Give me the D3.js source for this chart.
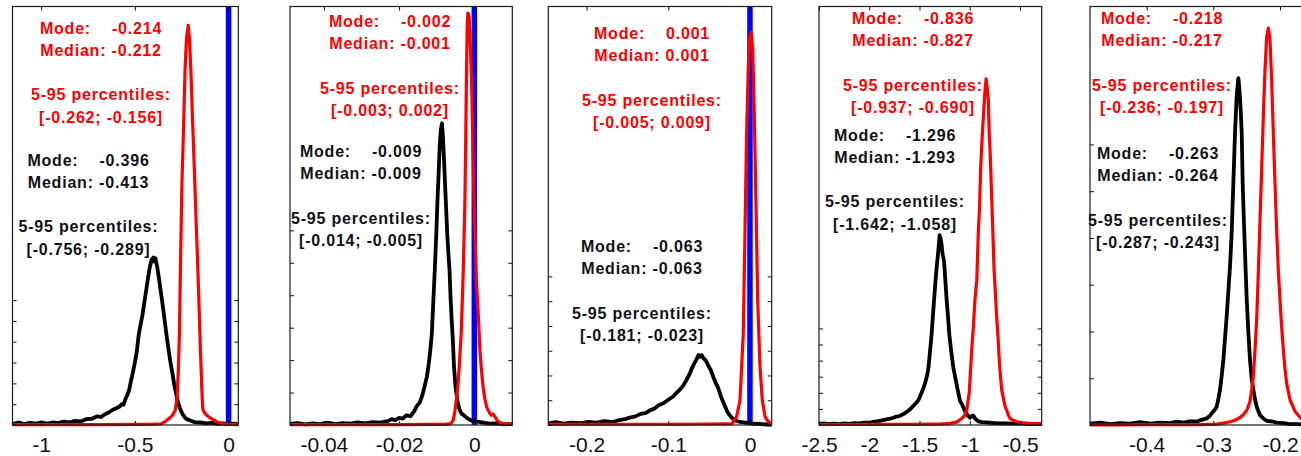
<!DOCTYPE html>
<html>
<head>
<meta charset="utf-8">
<script src="https://cdn.jsdelivr.net/npm/d3@7"></script>
<style>
  body { margin: 0; background: #fff; }
  svg { display: block; }
  text { font-family: "Liberation Sans", Arial, Helvetica, sans-serif; }
</style>
</head>
<body>
<svg id="chart" width="1301" height="456"></svg>
<script>
// ---- axis limits of the five panels ----
const xMin = [-1.153, -0.049, -0.2469, -2.5, -0.485];
const xMax = [0.052, 0.0101, 0.0266, -0.284, -0.1505];
const yMax = [20.1, 12.9, 16.9, 26.0, 8.95];

// ---- tick values and labels ----
const xTickValues = [
  [-1, -0.5, 0],
  [-0.04, -0.02, 0],
  [-0.2, -0.1, 0],
  [-2.5, -2, -1.5, -1, -0.5],
  [-0.4, -0.3, -0.2]
];
const xTickLabels = [
  ["-1", "-0.5", "0"],
  ["-0.04", "-0.02", "0"],
  ["-0.2", "-0.1", "0"],
  ["-2.5", "-2", "-1.5", "-1", "-0.5"],
  ["-0.4", "-0.3", "-0.2"]
];
const yTickValues = [0, 1, 2, 3, 4, 5, 6];

// ---- vertical reference line (zero effect), null where absent ----
const refLineX = [0, 0, 0, null, null];

// ---- posterior densities: black series ----
const blackP1 = [[-1.15,0.05],[-1.12,0.12],[-1.09,0.04],[-1.06,0.1],[-1.03,0.06],[-1.0,0.13],[-0.97,0.07],[-0.94,0.12],[-0.91,0.09],[-0.88,0.16],[-0.85,0.12],[-0.82,0.2],[-0.79,0.17],[-0.76,0.28],[-0.73,0.3],[-0.7,0.42],[-0.68,0.38],[-0.66,0.52],[-0.64,0.6],[-0.62,0.72],[-0.6,0.8],[-0.58,0.9],[-0.57,1.0],[-0.56,0.98],[-0.55,1.25],[-0.54,1.45],[-0.53,1.7],[-0.52,2.15],[-0.51,2.55],[-0.5,3.0],[-0.49,3.5],[-0.48,4.3],[-0.47,4.8],[-0.46,5.25],[-0.45,5.85],[-0.44,6.45],[-0.43,7.05],[-0.42,7.6],[-0.41,7.95],[-0.4,8.05],[-0.395,7.85],[-0.39,8.0],[-0.38,7.55],[-0.37,6.95],[-0.36,6.3],[-0.35,5.65],[-0.34,4.95],[-0.33,4.25],[-0.32,3.6],[-0.31,3.0],[-0.3,2.5],[-0.29,1.95],[-0.28,1.5],[-0.27,1.1],[-0.26,0.82],[-0.25,0.6],[-0.24,0.45],[-0.23,0.33],[-0.22,0.27],[-0.2,0.2],[-0.18,0.14],[-0.15,0.12],[-0.12,0.08],[-0.09,0.1],[-0.06,0.06],[-0.03,0.08],[0.0,0.05],[0.03,0.06],[0.05,0.04]];
const blackP2 = [[-0.049,0.03],[-0.047,0.06],[-0.045,0.02],[-0.043,0.05],[-0.041,0.03],[-0.039,0.07],[-0.037,0.03],[-0.035,0.06],[-0.033,0.04],[-0.031,0.08],[-0.029,0.05],[-0.027,0.09],[-0.025,0.07],[-0.023,0.12],[-0.022,0.18],[-0.021,0.15],[-0.02,0.22],[-0.019,0.2],[-0.018,0.3],[-0.017,0.27],[-0.016,0.42],[-0.0153,0.58],[-0.0145,0.7],[-0.0138,0.92],[-0.0132,1.2],[-0.0126,1.5],[-0.0122,1.8],[-0.0117,2.3],[-0.0113,2.8],[-0.0109,3.8],[-0.0105,4.8],[-0.0101,5.9],[-0.0098,6.9],[-0.0095,7.7],[-0.0092,8.6],[-0.0089,9.1],[-0.0086,9.3],[-0.0084,9.0],[-0.0081,8.3],[-0.0078,7.5],[-0.0075,6.7],[-0.0072,5.9],[-0.0069,5.3],[-0.0066,4.8],[-0.0063,3.9],[-0.006,3.2],[-0.0057,2.6],[-0.0054,1.8],[-0.005,1.2],[-0.0045,0.75],[-0.004,0.5],[-0.0034,0.35],[-0.0028,0.3],[-0.002,0.22],[-0.001,0.15],[0.0006,0.11],[0.002,0.08],[0.004,0.04],[0.006,0.05],[0.008,0.02],[0.0101,0.03]];
const blackP3 = [[-0.247,0.07],[-0.238,0.12],[-0.228,0.06],[-0.218,0.1],[-0.208,0.07],[-0.198,0.13],[-0.188,0.1],[-0.178,0.16],[-0.168,0.12],[-0.16,0.2],[-0.153,0.24],[-0.147,0.3],[-0.14,0.35],[-0.134,0.45],[-0.128,0.48],[-0.122,0.6],[-0.117,0.66],[-0.112,0.8],[-0.106,0.88],[-0.1,1.02],[-0.094,1.15],[-0.09,1.3],[-0.086,1.42],[-0.082,1.58],[-0.078,1.8],[-0.074,2.05],[-0.071,2.3],[-0.068,2.5],[-0.065,2.68],[-0.063,2.83],[-0.061,2.75],[-0.059,2.82],[-0.057,2.7],[-0.054,2.6],[-0.051,2.4],[-0.048,2.22],[-0.045,1.95],[-0.042,1.7],[-0.039,1.5],[-0.035,1.1],[-0.031,0.8],[-0.028,0.55],[-0.025,0.4],[-0.022,0.28],[-0.018,0.18],[-0.014,0.14],[-0.01,0.12],[-0.006,0.09],[0.0,0.08],[0.006,0.05],[0.012,0.04],[0.02,0.02],[0.0266,0.01]];
const blackP4 = [[-2.497,0.06],[-2.45,0.1],[-2.4,0.05],[-2.35,0.09],[-2.3,0.06],[-2.25,0.1],[-2.2,0.07],[-2.15,0.12],[-2.1,0.1],[-2.05,0.15],[-2.0,0.14],[-1.96,0.2],[-1.91,0.24],[-1.86,0.3],[-1.82,0.36],[-1.79,0.4],[-1.76,0.45],[-1.73,0.52],[-1.7,0.55],[-1.66,0.68],[-1.63,0.8],[-1.59,1.0],[-1.56,1.2],[-1.53,1.4],[-1.51,1.55],[-1.49,1.85],[-1.46,2.3],[-1.44,2.7],[-1.42,3.2],[-1.41,3.6],[-1.395,4.6],[-1.38,5.6],[-1.37,6.5],[-1.356,7.7],[-1.34,9.0],[-1.329,9.8],[-1.313,10.8],[-1.3,11.8],[-1.29,11.6],[-1.28,11.2],[-1.27,10.6],[-1.256,10.2],[-1.243,9.0],[-1.229,7.7],[-1.216,6.7],[-1.203,5.6],[-1.185,4.6],[-1.164,3.6],[-1.13,2.5],[-1.097,1.5],[-1.07,1.2],[-1.047,0.85],[-1.02,0.6],[-0.998,0.45],[-0.98,0.55],[-0.965,0.58],[-0.94,0.35],[-0.915,0.23],[-0.88,0.18],[-0.84,0.16],[-0.8,0.14],[-0.75,0.12],[-0.7,0.1],[-0.632,0.1],[-0.58,0.08],[-0.52,0.1],[-0.467,0.08],[-0.4,0.06],[-0.34,0.07],[-0.284,0.06]];
const blackP5 = [[-0.485,0.03],[-0.47,0.05],[-0.455,0.02],[-0.44,0.04],[-0.425,0.03],[-0.41,0.06],[-0.395,0.03],[-0.38,0.05],[-0.365,0.04],[-0.355,0.07],[-0.345,0.05],[-0.335,0.08],[-0.325,0.07],[-0.32,0.1],[-0.315,0.12],[-0.31,0.14],[-0.305,0.2],[-0.3,0.29],[-0.297,0.34],[-0.295,0.39],[-0.2925,0.55],[-0.29,0.75],[-0.2875,1.05],[-0.285,1.39],[-0.2825,1.85],[-0.28,2.32],[-0.2775,2.85],[-0.275,3.39],[-0.2725,4.1],[-0.27,5.17],[-0.2675,6.24],[-0.265,7.03],[-0.2625,7.42],[-0.261,7.2],[-0.26,7.0],[-0.2585,6.6],[-0.2574,6.24],[-0.256,5.17],[-0.2535,4.1],[-0.2515,3.3],[-0.2499,2.68],[-0.2475,2.0],[-0.245,1.39],[-0.2425,1.0],[-0.24,0.75],[-0.2375,0.55],[-0.2349,0.39],[-0.2325,0.3],[-0.23,0.21],[-0.225,0.14],[-0.22,0.09],[-0.21,0.07],[-0.205,0.05],[-0.195,0.04],[-0.185,0.02],[-0.175,0.02],[-0.165,0.01],[-0.15,0.01]];

// ---- posterior densities: red series ----
const redP1 = [[-1.15,0.02],[-0.9,0.02],[-0.7,0.02],[-0.5,0.03],[-0.4,0.04],[-0.36,0.06],[-0.34,0.15],[-0.32,0.3],[-0.3,0.45],[-0.285,0.7],[-0.275,1.3],[-0.268,2.6],[-0.262,4.5],[-0.256,8.0],[-0.249,11.5],[-0.241,14.0],[-0.232,17.1],[-0.224,18.6],[-0.215,19.2],[-0.208,18.4],[-0.201,17.0],[-0.192,14.6],[-0.183,12.4],[-0.174,10.0],[-0.165,7.8],[-0.157,5.6],[-0.15,3.6],[-0.143,1.8],[-0.138,0.8],[-0.13,0.6],[-0.12,0.5],[-0.1,0.35],[-0.085,0.27],[-0.06,0.14],[-0.03,0.05],[0.0,0.03],[0.05,0.02]];
const redP2 = [[-0.049,0.01],[-0.04,0.01],[-0.03,0.01],[-0.02,0.01],[-0.012,0.02],[-0.008,0.02],[-0.0064,0.04],[-0.006,0.08],[-0.0056,0.15],[-0.0052,0.4],[-0.0047,0.85],[-0.0043,1.3],[-0.004,1.8],[-0.0035,2.8],[-0.0032,3.8],[-0.0029,4.9],[-0.0027,5.9],[-0.0025,6.9],[-0.0023,8.6],[-0.0021,10.6],[-0.0019,12.3],[-0.0017,12.7],[-0.0014,12.6],[-0.0012,12.1],[-0.001,11.5],[-0.0008,10.8],[-0.0006,10.0],[-0.0003,8.0],[0.0,6.6],[0.0003,5.4],[0.0006,4.35],[0.0011,3.3],[0.0015,2.3],[0.0019,1.7],[0.0023,1.2],[0.0028,0.8],[0.0033,0.55],[0.004,0.38],[0.0045,0.3],[0.005,0.34],[0.0055,0.25],[0.0062,0.12],[0.007,0.07],[0.0085,0.03],[0.0101,0.02]];
const redP3 = [[-0.247,0.03],[-0.2,0.03],[-0.15,0.03],[-0.1,0.03],[-0.05,0.04],[-0.03,0.05],[-0.0224,0.04],[-0.0204,0.13],[-0.0163,0.34],[-0.0122,1.0],[-0.0082,3.7],[-0.0061,7.8],[-0.0041,11.8],[-0.002,14.5],[0.0,15.7],[0.0016,15.85],[0.0033,15.2],[0.0049,13.2],[0.0073,9.1],[0.0094,5.1],[0.0122,2.4],[0.0151,1.0],[0.0184,0.34],[0.0224,0.13],[0.0266,0.07]];
const redP4 = [[-2.497,0.03],[-2.2,0.03],[-1.9,0.04],[-1.6,0.04],[-1.4,0.05],[-1.3,0.06],[-1.2,0.1],[-1.13,0.18],[-1.08,0.4],[-1.05,0.6],[-1.03,0.93],[-1.005,2.0],[-0.981,4.6],[-0.963,6.2],[-0.948,7.8],[-0.93,9.0],[-0.915,11.9],[-0.903,13.5],[-0.891,16.0],[-0.877,17.8],[-0.864,19.2],[-0.85,20.6],[-0.838,21.5],[-0.827,21.0],[-0.815,20.2],[-0.806,18.0],[-0.798,17.1],[-0.789,15.5],[-0.781,14.0],[-0.77,12.0],[-0.759,9.8],[-0.745,8.2],[-0.732,6.7],[-0.718,5.4],[-0.706,4.0],[-0.694,3.0],[-0.682,2.2],[-0.673,1.9],[-0.665,1.65],[-0.65,1.2],[-0.632,0.9],[-0.615,0.6],[-0.599,0.4],[-0.57,0.3],[-0.533,0.2],[-0.47,0.14],[-0.4,0.1],[-0.34,0.08],[-0.284,0.1]];
const redP5 = [[-0.485,0.0],[-0.44,0.0],[-0.395,0.01],[-0.35,0.01],[-0.32,0.01],[-0.295,0.02],[-0.285,0.04],[-0.275,0.07],[-0.2675,0.1],[-0.26,0.16],[-0.255,0.22],[-0.25,0.31],[-0.2475,0.4],[-0.245,0.51],[-0.2425,0.75],[-0.24,1.04],[-0.2375,1.6],[-0.235,2.25],[-0.2325,3.25],[-0.23,4.39],[-0.2274,5.53],[-0.225,6.6],[-0.2225,7.6],[-0.2199,8.31],[-0.2175,8.49],[-0.215,8.24],[-0.2124,7.32],[-0.21,6.24],[-0.2075,5.17],[-0.2049,4.1],[-0.2025,3.3],[-0.2,2.68],[-0.1975,2.1],[-0.195,1.61],[-0.1925,1.2],[-0.19,0.89],[-0.185,0.54],[-0.1775,0.29],[-0.1685,0.14],[-0.16,0.09],[-0.15,0.05]];

const blackSeries = [blackP1, blackP2, blackP3, blackP4, blackP5];
const redSeries = [redP1, redP2, redP3, redP4, redP5];

// ---- summary statistics printed in each panel ----
const redMode    = [-0.214, -0.002, 0.001, -0.836, -0.218];
const redMedian  = [-0.212, -0.001, 0.001, -0.827, -0.217];
const redP05     = [-0.262, -0.003, -0.005, -0.937, -0.236];
const redP95     = [-0.156, 0.002, 0.009, -0.690, -0.197];
const blackMode   = [-0.396, -0.009, -0.063, -1.296, -0.263];
const blackMedian = [-0.413, -0.009, -0.063, -1.293, -0.264];
const blackP05    = [-0.756, -0.014, -0.181, -1.642, -0.287];
const blackP95    = [-0.289, -0.005, -0.023, -1.058, -0.243];

// ---- layout ----
const plotLeft  = [12.5, 290, 548.3, 819, 1090];
const plotRight = [238.3, 512.3, 771.7, 1041.7, 1313];
const plotTop = 6.5, plotBottom = 425;
// annotation blocks: centre x and first baseline y
const redTextX   = [101, 390, 652, 913, 1162];
const redTextY   = [33.5, 27, 39, 24, 24];
const blackTextX = [88.5, 361, 642, 895, 1158];
const blackTextY = [165.5, 157, 252, 140.5, 159];
const lineStep = 22.3;
const tickLen = 4;

const RED = "#ff0000", BLACK = "#000000", BLUE = "#0000ff", TEXT_DARK = "#101018";

const fmt = d3.formatLocale({decimal: ".", thousands: ",", grouping: [3], currency: ["", ""], minus: "-"}).format(".3f");

const svg = d3.select("#chart");

for (let p = 0; p < 5; p++) {
  const x = d3.scaleLinear().domain([xMin[p], xMax[p]]).range([plotLeft[p], plotRight[p]]);
  const y = d3.scaleLinear().domain([0, yMax[p]]).range([plotBottom, plotTop]);
  const w = plotRight[p] - plotLeft[p];
  const h = plotBottom - plotTop;

  const g = svg.append("g").attr("class", "panel");

  const clipId = "clip" + p;
  g.append("clipPath").attr("id", clipId)
    .append("rect")
    .attr("x", plotLeft[p]).attr("y", plotTop - 3)
    .attr("width", w).attr("height", h + 6);

  const plot = g.append("g").attr("clip-path", `url(#${clipId})`);

  // zero reference line
  if (refLineX[p] !== null) {
    plot.append("line")
      .attr("x1", x(refLineX[p])).attr("x2", x(refLineX[p]))
      .attr("y1", y(0)).attr("y2", y(yMax[p]))
      .attr("stroke", BLUE).attr("stroke-width", 5.5);
  }

  const line = d3.line().x(d => x(d[0])).y(d => y(d[1]));

  plot.append("path").datum(blackSeries[p])
    .attr("d", line).attr("fill", "none")
    .attr("stroke", BLACK).attr("stroke-width", 3.8)
    .attr("stroke-linejoin", "round");

  plot.append("path").datum(redSeries[p])
    .attr("d", line).attr("fill", "none")
    .attr("stroke", RED).attr("stroke-width", 3.2)
    .attr("stroke-linejoin", "round");

  // axes: inward ticks on all four sides, labels only at the bottom
  const bottomAxis = d3.axisBottom(x).tickValues(xTickValues[p])
    .tickFormat((d, i) => xTickLabels[p][i])
    .tickSizeInner(-tickLen).tickSizeOuter(0).tickPadding(12);
  const gb = g.append("g").attr("transform", `translate(0,${plotBottom})`).call(bottomAxis);
  gb.selectAll("text").attr("font-size", 21).attr("fill", TEXT_DARK)
    .style("font-family", '"Liberation Sans", Arial, sans-serif');

  const topAxis = d3.axisTop(x).tickValues(xTickValues[p]).tickFormat("")
    .tickSizeInner(-tickLen).tickSizeOuter(0);
  g.append("g").attr("transform", `translate(0,${plotTop})`).call(topAxis);

  const leftAxis = d3.axisLeft(y).tickValues(yTickValues).tickFormat("")
    .tickSizeInner(-tickLen).tickSizeOuter(0);
  g.append("g").attr("transform", `translate(${plotLeft[p]},0)`).call(leftAxis);

  const rightAxis = d3.axisRight(y).tickValues(yTickValues).tickFormat("")
    .tickSizeInner(-tickLen).tickSizeOuter(0);
  g.append("g").attr("transform", `translate(${plotRight[p]},0)`).call(rightAxis);

  g.selectAll(".domain").remove();
  g.selectAll(".tick line").attr("stroke", "#111").attr("stroke-width", 1);

  // axes box
  g.append("rect")
    .attr("x", plotLeft[p]).attr("y", plotTop)
    .attr("width", w).attr("height", h)
    .attr("fill", "none").attr("stroke", "#1a1a1a").attr("stroke-width", 1.2);

  // statistics annotations
  function block(cx, y0, color, mode, median, lo, hi) {
    const lines = [
      [0, "Mode:    " + fmt(mode)],
      [1, "Median: " + fmt(median)],
      [3, "5-95 percentiles:"],
      [4, "[" + fmt(lo) + "; " + fmt(hi) + "]"]
    ];
    lines.forEach(([k, s]) => {
      g.append("text")
        .attr("x", cx).attr("y", y0 + k * lineStep)
        .attr("text-anchor", "middle")
        .attr("xml:space", "preserve")
        .style("white-space", "pre")
        .attr("font-size", 16).attr("font-weight", "bold")
        .attr("letter-spacing", 0.8)
        .attr("fill", color)
        .text(s);
    });
  }
  block(redTextX[p], redTextY[p], RED, redMode[p], redMedian[p], redP05[p], redP95[p]);
  block(blackTextX[p], blackTextY[p], TEXT_DARK, blackMode[p], blackMedian[p], blackP05[p], blackP95[p]);
}
</script>
</body>
</html>
